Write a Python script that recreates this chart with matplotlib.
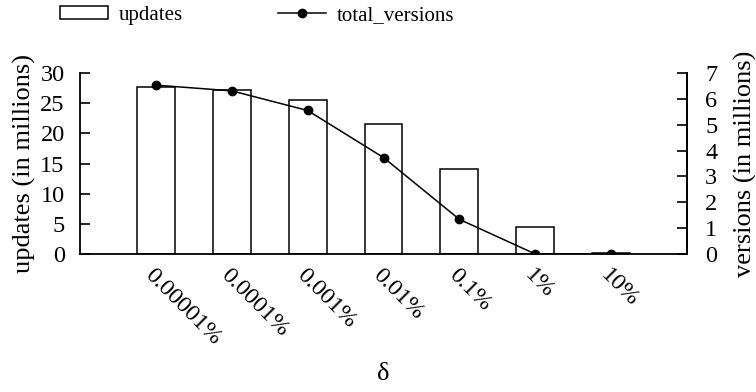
import matplotlib
matplotlib.use("Agg")
import matplotlib.pyplot as plt
import numpy as np

categories = ["0.00001%", "0.0001%", "0.001%", "0.01%", "0.1%", "1%", "10%"]
updates = [27.6, 27.1, 25.6, 21.5, 14.1, 4.5, 0.15]
total_versions = [6.53, 6.31, 5.55, 3.73, 1.34, 0.0, 0.0]

plt.rcParams['font.family'] = ['Liberation Serif', 'DejaVu Serif']
plt.rcParams['font.size'] = 17.5

fig = plt.figure(figsize=(7.56, 3.92), dpi=100)
ax = fig.add_axes([80/756, 1-254/392, (687-80)/756, (254-73)/392])
x = np.arange(len(categories))

bars = ax.bar(x, updates, width=0.5, facecolor='white', edgecolor='black',
              linewidth=1.1, label='updates')
ax.set_xlim(-1, len(categories))
ax.set_ylim(0, 30)
ax.set_yticks([0, 5, 10, 15, 20, 25, 30])
ax.set_ylabel('updates (in millions)', fontsize=19, labelpad=3)
ax.set_xticks(x)
ax.set_xticklabels(categories, rotation=-45, ha='left', va='top',
                   rotation_mode='anchor', fontsize=17.5)
ax.tick_params(axis='x', length=0, pad=8)
ax.tick_params(axis='y', direction='in', length=7, width=1.2, pad=11,
               labelsize=17.5)
ax.spines['top'].set_visible(False)
for s in ['left', 'bottom', 'right']:
    ax.spines[s].set_linewidth(1.3)
ax.set_xlabel('δ', fontsize=19, labelpad=10)

ax2 = ax.twinx()
line, = ax2.plot(x, total_versions, color='black', linewidth=1.1, marker='o',
                 markersize=6, label='total_versions')
ax2.set_ylim(0, 7)
ax2.set_yticks(range(8))
ax2.set_ylabel('versions (in millions)', rotation=90, fontsize=19, labelpad=12)
ax2.tick_params(axis='y', direction='in', length=7, width=1.2, pad=13,
                labelsize=17.5)
ax2.spines['top'].set_visible(False)
ax2.spines['right'].set_linewidth(1.3)
ax2.spines['left'].set_visible(False)
ax2.spines['bottom'].set_visible(False)

fig.legend([bars, line], ['updates', 'total_versions'], loc='upper left',
           bbox_to_anchor=(60/756, 1 - 6/392), ncol=2, frameon=False,
           fontsize=15, borderpad=0, borderaxespad=0,
           handlelength=2.3, handleheight=0.58, columnspacing=4.6,
           handletextpad=0.5)

fig.savefig('out.png', dpi=100)
